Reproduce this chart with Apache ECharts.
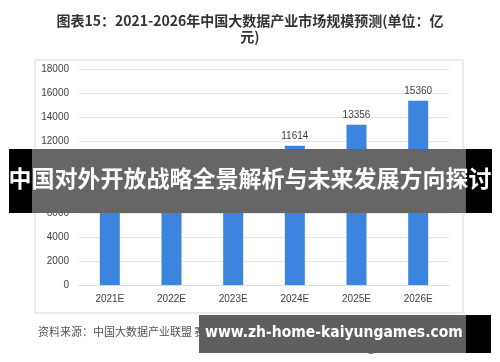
<!DOCTYPE html>
<html><head><meta charset="utf-8">
<script src="https://cdn.jsdelivr.net/npm/echarts@6/dist/echarts.min.js"></script>
<style>html,body{margin:0;padding:0;background:#fff}#c{width:500px;height:362px}</style>
</head><body><div id="c"></div>
<script>
const categories = ['2021E','2022E','2023E','2024E','2025E','2026E'];
const values = [7486, 8774, 10099, 11614, 13356, 15360];
const yTicks = [0, 2000, 4000, 6000, 8000, 10000, 12000, 14000, 16000, 18000];
const titleText = '图表15：2021-2026年中国大数据产业市场规模预测(单位：亿\n元)';
const sourceText = '资料来源：中国大数据产业联盟 赛迪顾问 前瞻产业研究院整理';
const creditText = '@前瞻经济学人APP';
const bannerText = '中国对外开放战略全景解析与未来发展方向探讨';
const urlText = 'www.zh-home-kaiyungames.com';

const font = '"Noto Sans CJK SC", "Noto Sans", sans-serif';
const chart = echarts.init(document.getElementById('c'));
chart.setOption({
  animation: false,
  textStyle: { fontFamily: font },
  title: {
    text: titleText, left: 'center', top: 8,
    textStyle: { fontSize: 14, fontWeight: 'bold', color: '#333', lineHeight: 16, fontFamily: font }
  },
  grid: { left: 79, right: 51, top: 69, bottom: 77 },
  xAxis: {
    type: 'category', data: categories,
    axisLine: { lineStyle: { color: '#d9d9d9' } },
    axisTick: { show: false },
    axisLabel: { color: '#404040', fontSize: 10, margin: 9, fontFamily: 'Liberation Sans, sans-serif' }
  },
  yAxis: {
    type: 'value', min: yTicks[0], max: yTicks[yTicks.length - 1], interval: 2000,
    axisLine: { show: false }, axisTick: { show: false },
    splitLine: { lineStyle: { color: '#e3e3e3' } },
    axisLabel: { color: '#404040', fontSize: 10, margin: 10, fontFamily: 'Liberation Sans, sans-serif', formatter: v => String(v) }
  },
  series: [{
    type: 'bar', data: values, barWidth: 20,
    itemStyle: { color: '#3d84df' },
    label: { show: true, position: 'top', color: '#404040', fontSize: 10, distance: 4, fontFamily: 'Liberation Sans, sans-serif', formatter: p => String(p.value) }
  }],
  graphic: [
    { type: 'rect', shape: { x: 35, y: 60, width: 428, height: 253 }, style: { fill: 'none', stroke: '#d9d9d9', lineWidth: 1 }, z: 0, silent: true },
    { type: 'text', left: 38, top: 326, style: { text: sourceText, fill: '#555', fontSize: 11, fontFamily: font }, z: 5 },
    { type: 'text', right: 37, top: 342, style: { text: creditText, fill: '#666', fontSize: 11, fontFamily: font }, z: 5 },
    // top banner
    { type: 'rect', shape: { x: 9, y: 149, width: 483, height: 64 }, style: { fill: '#000' }, z: 100 },
    { type: 'rect', shape: { x: 32, y: 149, width: 434, height: 64 }, style: { fill: '#fff' }, z: 100 },
    { type: 'rect', shape: { x: 32, y: 149, width: 434, height: 64 }, style: { fill: 'rgba(0,0,0,0.6)' }, z: 1000 },
    { type: 'text', left: 'center', top: 167, style: { text: bannerText, fill: '#fff', fontSize: 23, fontWeight: 'bold', fontFamily: font }, z: 1001 },
    // bottom url banner
    { type: 'rect', shape: { x: 199, y: 315, width: 292, height: 38 }, style: { fill: '#000' }, z: 1000 },
    { type: 'rect', shape: { x: 199, y: 315, width: 267, height: 38 }, style: { fill: '#5f5f5f' }, z: 1000 },
    { type: 'text', left: 205, top: 325, style: { text: urlText, fill: '#fff', fontSize: 15.5, fontWeight: 'bold', fontFamily: '"DejaVu Sans Condensed", "DejaVu Sans", sans-serif' }, z: 1001 }
  ]
});
</script></body></html>
